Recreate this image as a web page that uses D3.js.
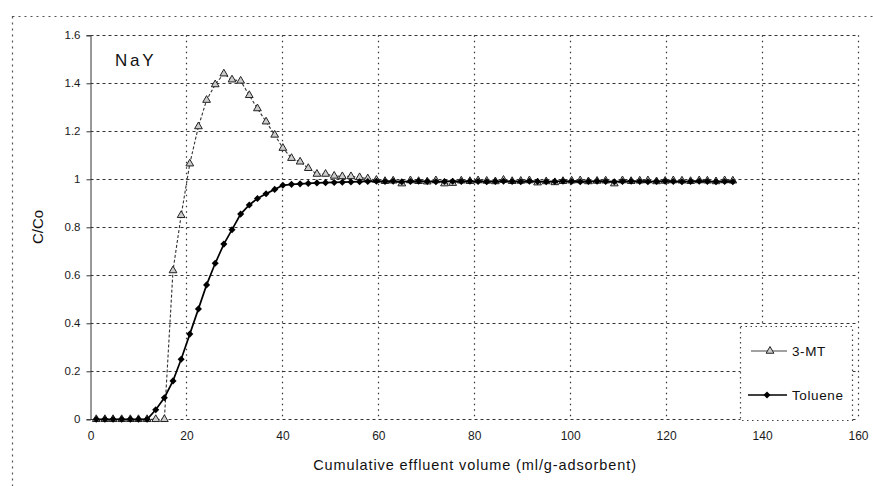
<!DOCTYPE html>
<html>
<head>
<meta charset="utf-8">
<script src="https://cdn.jsdelivr.net/npm/d3@7"></script>
<style>
  html, body { margin: 0; padding: 0; background: #fff; }
  svg { display: block; font-family: "Liberation Sans", Arial, sans-serif; }
</style>
</head>
<body>
<svg id="chart" width="873" height="486"></svg>
<script>
// Cumulative effluent volume (ml/g-adsorbent) at each sample
const volume = [
  1.2, 3.0, 4.7, 6.5, 8.3, 10.0, 11.8, 13.6, 15.4, 17.2,
  18.9, 20.7, 22.5, 24.2, 26.0, 27.8, 29.5, 31.3, 33.1, 34.8,
  36.6, 38.4, 40.1, 41.9, 43.7, 45.4, 47.2, 49.0, 50.8, 52.5,
  54.3, 56.1, 57.8, 59.6, 61.4, 63.1, 64.9, 66.7, 68.4, 70.2,
  72.0, 73.8, 75.5, 77.3, 79.1, 80.8, 82.6, 84.4, 86.1, 87.9,
  89.7, 91.5, 93.2, 95.0, 96.8, 98.5, 100.3, 102.1, 103.8, 105.6,
  107.4, 109.2, 110.9, 112.7, 114.5, 116.2, 118.0, 119.8, 121.5, 123.3,
  125.1, 126.9, 128.6, 130.4, 132.2, 133.9
];

// C/Co of 3-methylthiophene
const mt3 = [
  0, 0, 0, 0, 0, 0, 0, 0, 0, 0.62,
  0.85, 1.065, 1.22, 1.33, 1.395, 1.44, 1.415, 1.41, 1.35, 1.295,
  1.24, 1.185, 1.13, 1.088, 1.073, 1.046, 1.022, 1.022, 1.014, 1.012,
  1.012, 1.008, 1.003, 0.997, 0.992, 0.994, 0.982, 0.995, 0.992, 0.99,
  0.995, 0.982, 0.984, 0.994, 0.992, 0.995, 0.993, 0.991, 0.997, 0.992,
  0.993, 0.995, 0.986, 0.991, 0.987, 0.992, 0.994, 0.995, 0.991, 0.993,
  0.994, 0.982, 0.995, 0.992, 0.994, 0.995, 0.991, 0.993, 0.995, 0.994,
  0.992, 0.995, 0.994, 0.991, 0.995, 0.994
];

// C/Co of toluene
const toluene = [
  0, 0, 0, 0, 0, 0, 0, 0.04, 0.09, 0.16,
  0.25, 0.355, 0.46, 0.56, 0.65, 0.73, 0.79, 0.855, 0.893, 0.92,
  0.94, 0.958, 0.975, 0.979, 0.981, 0.983, 0.985, 0.986, 0.987, 0.988,
  0.989, 0.99, 0.991, 0.992, 0.991, 0.992, 0.99, 0.991, 0.992, 0.991,
  0.99, 0.991, 0.992, 0.991, 0.992, 0.991, 0.99, 0.991, 0.992, 0.991,
  0.99, 0.992, 0.991, 0.99, 0.991, 0.992, 0.991, 0.99, 0.991, 0.992,
  0.991, 0.99, 0.991, 0.992, 0.991, 0.99, 0.991, 0.992, 0.991, 0.99,
  0.991, 0.992, 0.991, 0.99, 0.991, 0.99
];

const xTicks = [0, 20, 40, 60, 80, 100, 120, 140, 160];
const yTicks = [0, 0.2, 0.4, 0.6, 0.8, 1, 1.2, 1.4, 1.6];
const yTickLabels = ["0", "0.2", "0.4", "0.6", "0.8", "1", "1.2", "1.4", "1.6"];
const seriesNames = ["3-MT", "Toluene"];

const svg = d3.select("#chart");
const plot = { left: 90.5, right: 858, top: 35.3, bottom: 419.3 };

const x = d3.scaleLinear().domain([0, 160]).range([plot.left, plot.right]);
const y = d3.scaleLinear().domain([0, 1.6]).range([plot.bottom, plot.top]);

// outer chart frame
svg.append("rect")
  .attr("x", 12.5).attr("y", 16.5).attr("width", 900).attr("height", 520)
  .attr("fill", "none").attr("stroke", "#555").attr("stroke-width", 1.2)
  .attr("stroke-dasharray", "2,4");

// horizontal gridlines (dashed)
svg.append("g").selectAll("line").data(yTicks).join("line")
  .attr("x1", plot.left).attr("x2", plot.right)
  .attr("y1", d => Math.round(y(d)) + 0.5).attr("y2", d => Math.round(y(d)) + 0.5)
  .attr("stroke", "#333").attr("stroke-width", 1)
  .attr("stroke-dasharray", "3,3");

// vertical gridlines (dotted)
svg.append("g").selectAll("line").data(xTicks.slice(1)).join("line")
  .attr("x1", d => Math.round(x(d)) + 0.5).attr("x2", d => Math.round(x(d)) + 0.5)
  .attr("y1", plot.top).attr("y2", plot.bottom)
  .attr("stroke", "#333").attr("stroke-width", 1.2)
  .attr("stroke-dasharray", "1.5,4");

// y axis
const yAxis = d3.axisLeft(y).tickValues(yTicks)
  .tickFormat((d, i) => yTickLabels[i]).tickSize(4).tickPadding(6);
const gy = svg.append("g").attr("transform", `translate(${plot.left},0)`).call(yAxis);
gy.select(".domain").attr("stroke", "#333");
gy.selectAll(".tick line").attr("stroke", "#333");
gy.selectAll(".tick text").attr("font-size", 11.5).attr("fill", "#1a1a1a")
  .attr("font-family", "Liberation Sans, Arial, sans-serif");

// x axis labels (axis line is the dashed zero gridline)
const xAxis = d3.axisBottom(x).tickValues(xTicks).tickSize(0).tickPadding(12);
const gx = svg.append("g").attr("transform", `translate(0,${plot.bottom})`).call(xAxis);
gx.select(".domain").remove();
gx.selectAll(".tick text").attr("font-size", 12).attr("fill", "#1a1a1a")
  .attr("font-family", "Liberation Sans, Arial, sans-serif");

// axis titles
svg.append("text")
  .attr("x", 475).attr("y", 470)
  .attr("text-anchor", "middle").attr("font-size", 14.5).attr("letter-spacing", 0.9)
  .attr("fill", "#111")
  .text("Cumulative effluent volume (ml/g-adsorbent)");

svg.append("text")
  .attr("transform", "translate(43,227) rotate(-90)")
  .attr("text-anchor", "middle").attr("font-size", 15).attr("fill", "#111")
  .text("C/Co");

// adsorbent label
svg.append("text")
  .attr("x", 115).attr("y", 66)
  .attr("font-size", 17).attr("letter-spacing", 2.8).attr("fill", "#111")
  .text("NaY");

const line = d3.line().x(d => x(d[0])).y(d => y(d[1]));
const mtPts = volume.map((v, i) => [v, mt3[i]]);
const tolPts = volume.map((v, i) => [v, toluene[i]]);

const triangle = d3.symbol().type(d3.symbolTriangle).size(26);
const diamond = d3.symbol().type(d3.symbolSquare).size(25);

// 3-MT: dashed grey line with open triangles
svg.append("path").datum(mtPts)
  .attr("d", line).attr("fill", "none")
  .attr("stroke", "#333").attr("stroke-width", 1.1)
  .attr("stroke-dasharray", "3,2");
svg.append("g").selectAll("path").data(mtPts).join("path")
  .attr("d", triangle)
  .attr("transform", d => `translate(${x(d[0])},${y(d[1])})`)
  .attr("fill", "#ccc").attr("stroke", "#222").attr("stroke-width", 1);

// Toluene: solid black line with filled diamonds
svg.append("path").datum(tolPts)
  .attr("d", line).attr("fill", "none")
  .attr("stroke", "#000").attr("stroke-width", 1.7);
svg.append("g").selectAll("path").data(tolPts).join("path")
  .attr("d", diamond)
  .attr("transform", d => `translate(${x(d[0])},${y(d[1])}) rotate(45)`)
  .attr("fill", "#000");

// legend
const lg = svg.append("g");
lg.append("rect")
  .attr("x", 740.5).attr("y", 326.5).attr("width", 112).attr("height", 94)
  .attr("fill", "#fff").attr("stroke", "#444").attr("stroke-width", 1.2)
  .attr("stroke-dasharray", "1.5,3.5");
const legendRows = [
  { name: seriesNames[0], yPos: 351, x0: 751, x1: 787, mx: 770 },
  { name: seriesNames[1], yPos: 395, x0: 748, x1: 787, mx: 767 }
];
legendRows.forEach((r, i) => {
  lg.append("line").attr("x1", r.x0).attr("x2", r.x1).attr("y1", r.yPos).attr("y2", r.yPos)
    .attr("stroke", i === 0 ? "#444" : "#000").attr("stroke-width", i === 0 ? 1.1 : 1.6);
  lg.append("path")
    .attr("d", i === 0 ? triangle : diamond)
    .attr("transform", `translate(${r.mx},${r.yPos})` + (i === 0 ? "" : " rotate(45)"))
    .attr("fill", i === 0 ? "#ccc" : "#000")
    .attr("stroke", i === 0 ? "#222" : "none");
  lg.append("text").attr("x", 792).attr("y", r.yPos).attr("dy", "0.35em")
    .attr("font-size", 13.5).attr("letter-spacing", 0.6)
    .attr("fill", "#111").text(r.name);
});
</script>
</body>
</html>
